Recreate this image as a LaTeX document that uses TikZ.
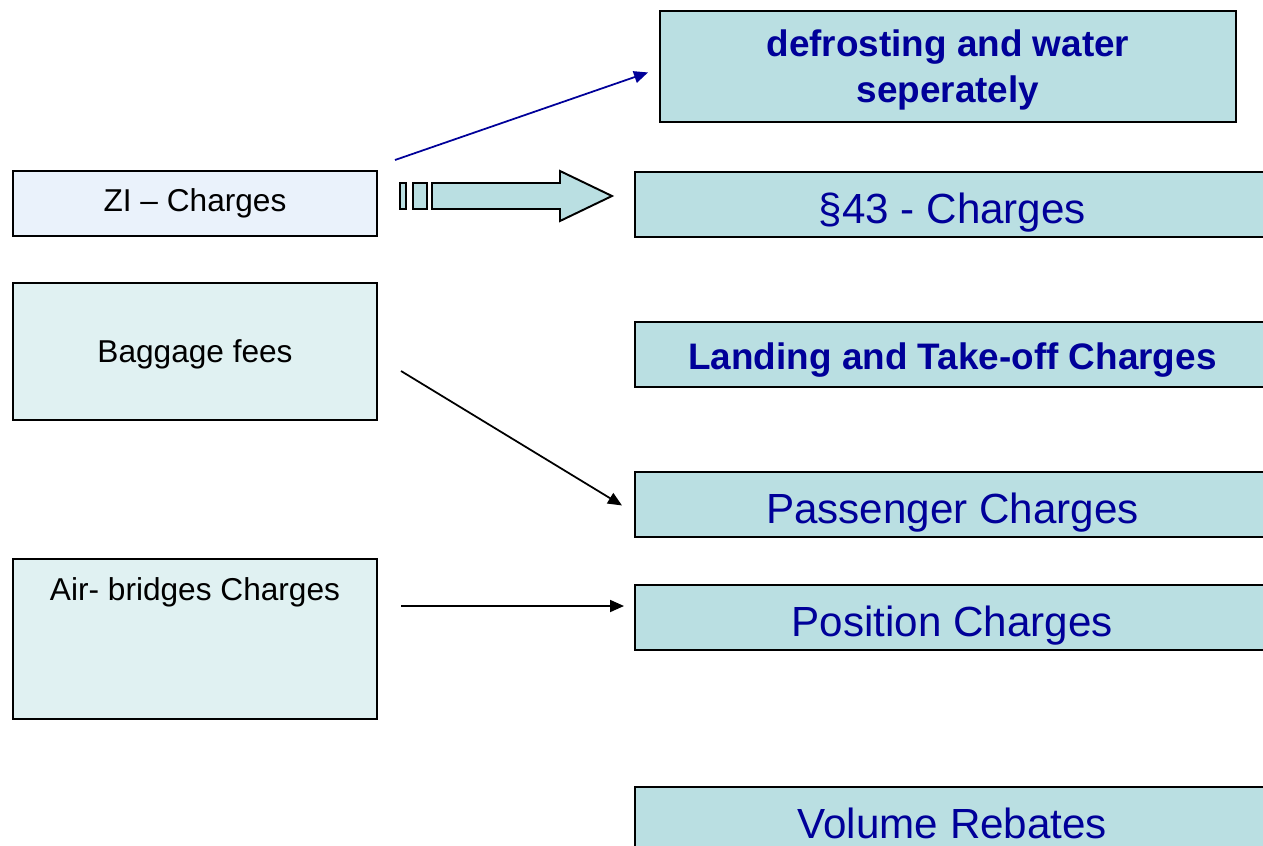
\documentclass[tikz,border=0pt]{standalone}
\usepackage{fontspec}
\setmainfont{Liberation Sans}
\usepackage{tikz}
\usetikzlibrary{arrows.meta,calc,positioning}
\definecolor{turquesa}{HTML}{BADFE2}
\definecolor{azulpalido}{HTML}{EAF2FB}
\definecolor{verdepalido}{HTML}{E0F1F2}
\definecolor{marinho}{HTML}{000099}

\begin{document}
\begin{tikzpicture}[
  x=0.02cm,y=-0.02cm,
  esq/.style={draw,line width=1.1pt,minimum width=7.28cm,minimum height=1.3cm,
              align=center,font=\fontsize{18}{22}\selectfont,fill=verdepalido,inner sep=0pt},
  caixa/.style={draw,line width=1.1pt,anchor=north west,minimum width=12.7cm,minimum height=1.3cm,
              align=center,fill=turquesa,text=marinho},
  dir/.style={caixa,font=\fontsize{24}{29}\selectfont,text height=0.78cm,text depth=0pt},
  dirb/.style={caixa,font=\fontsize{21}{26}\selectfont\bfseries,text height=0.59cm,text depth=0pt},
  arr/.style={-{Triangle[length=0.28cm,width=0.24cm]},line width=1pt},
  bloco/.style={draw,line width=1.1pt,fill=turquesa,line join=miter}
]
  \useasboundingbox (0,0) rectangle (1263,845);

  % lado esquerdo
  \node[esq,fill=azulpalido] (zi) at (195,203.5) {ZI -- Charges};
  \node[esq,minimum height=2.74cm,text depth=0pt] (bag) at (195,351.5) {Baggage fees};
  \node[esq,anchor=north,text height=0.84cm,text depth=2.36cm] (air) at (195,558) {Air- bridges Charges};

  % lado direito
  \node[caixa,font=\fontsize{21}{26}\selectfont\bfseries,text depth=0pt,
        minimum width=11.52cm,minimum height=2.22cm] (degelo) at (659,10)
       {defrosting and water\\seperately};
  \node[dir] (c43) at (634,171) {§43 - Charges};
  \node[dirb] (pouso) at (634,321) {Landing and Take-off Charges};
  \node[dir] (pass) at (634,471) {Passenger Charges};
  \node[dir] (pos) at (634,584) {Position Charges};
  \node[dir] (vol) at (634,786) {Volume Rebates};

  % seta larga
  \draw[bloco] (400,183) rectangle (406,209);
  \draw[bloco] (413,183) rectangle (427,209);
  \draw[bloco] (432,183) -- (560,183) -- (560,171) -- (612,196) -- (560,221)
       -- (560,209) -- (432,209) -- cycle;

  % conectores
  \coordinate (zisai) at (395,160);
  \coordinate (bagsai) at (401,371);
  \coordinate (airsai) at (401,606);
  \draw[arr,marinho] (zisai) -- ($(degelo.west)+(-11,6)$);
  \draw[arr] (bagsai) -- ($(pass.west)+(-12,1)$);
  \draw[arr] (airsai) -- ($(airsai -| pos.west)+(-10,0)$);
\end{tikzpicture}
\end{document}
